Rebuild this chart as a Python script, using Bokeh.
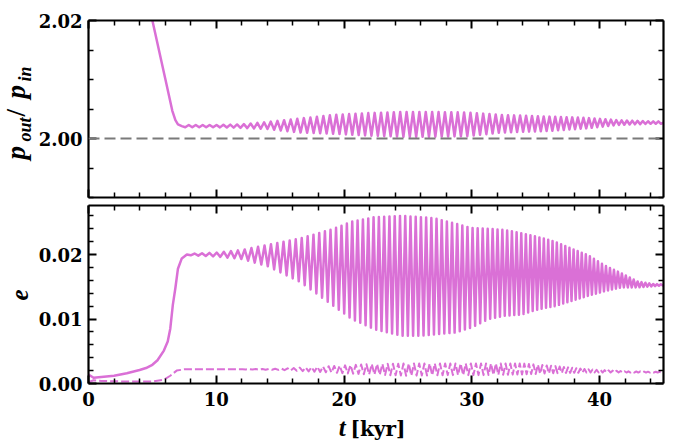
import numpy as np
from bokeh.plotting import figure
from bokeh.layouts import column, row
from bokeh.models import (Range1d, FixedTicker, LinearAxis, NumeralTickFormatter,
                          CustomJSTickFormatter, Span, Label)
from bokeh.embed import file_html
from bokeh.resources import INLINE

# ---------------- data ----------------
# top panel: period ratio p_out/p_in
ratio_drop_t = [0.0, 3.0, 4.0, 5.0, 6.0, 6.56, 6.8, 7.0, 7.3]
ratio_drop_v = [2.069, 2.0396, 2.0298, 2.0200, 2.0102, 2.0047, 2.0031, 2.0024, 2.0021]
ratio_env_t = [7.3, 10, 12, 14, 16.6, 19.2, 21.8, 24.5, 27, 29.7, 32.3, 36.2, 38.9, 41.5, 44.1, 45]
ratio_upper = [2.0023, 2.0023, 2.0024, 2.0028, 2.0034, 2.0040, 2.0043, 2.0045, 2.0045, 2.0044,
               2.0040, 2.0037, 2.0035, 2.0031, 2.0029, 2.0029]
ratio_lower = [2.0019, 2.0019, 2.0018, 2.0016, 2.0010, 2.0008, 2.0005, 2.0003, 2.0003, 2.0004,
               2.0010, 2.0013, 2.0017, 2.0023, 2.0025, 2.0025]
ratio_per_t = [7.0, 20.0, 30.0, 36.0, 45.0]
ratio_per = [0.55, 0.50, 0.50, 0.45, 0.40]
ratio_ref = 2.0

# bottom panel: eccentricities
ecc1_rise_t = [0.0, 0.4, 1.0, 2.0, 3.0, 4.0, 4.5, 5.0, 5.4, 5.9, 6.2, 6.4, 6.6, 6.8, 7.0, 7.3, 7.7]
ecc1_rise_v = [0.0014, 0.0009, 0.0010, 0.0012, 0.0016, 0.0021, 0.0024, 0.0029, 0.0036, 0.0051,
               0.0065, 0.0085, 0.0122, 0.0148, 0.0178, 0.0194, 0.0200]
ecc1_env_t = [7.7, 10, 12, 14, 16.6, 19.2, 20.6, 22.4, 24.5, 26.0, 27.1, 28.7, 30.0, 31.3, 32.6,
              33.9, 35.2, 36.5, 37.8, 39.1, 40.4, 41.7, 43.0, 44.3, 45]
ecc1_upper = [0.0201, 0.0203, 0.0207, 0.0215, 0.0225, 0.0240, 0.0251, 0.0258, 0.0260, 0.0258,
              0.0256, 0.0248, 0.0241, 0.0240, 0.0238, 0.0233, 0.0227, 0.0220, 0.0209, 0.0199,
              0.0183, 0.0171, 0.0158, 0.0154, 0.0154]
ecc1_lower = [0.0199, 0.0197, 0.0193, 0.0182, 0.0157, 0.0120, 0.0100, 0.0084, 0.0074, 0.0074,
              0.0076, 0.0079, 0.0087, 0.0100, 0.0105, 0.0107, 0.0115, 0.0120, 0.0128, 0.0136,
              0.0143, 0.0149, 0.0149, 0.0151, 0.0152]
ecc_per_t = [7.7, 14.0, 20.0, 30.0, 38.0, 45.0]
ecc_per = [0.60, 0.50, 0.42, 0.40, 0.32, 0.30]

ecc2_rise_t = [0.0, 0.4, 1.0, 3.0, 5.0, 5.9, 6.4, 6.9, 7.5]
ecc2_rise_v = [0.0002, 0.0005, 0.0004, 0.0003, 0.0003, 0.0006, 0.0012, 0.0020, 0.0022]
ecc2_env_t = [7.5, 12, 15, 16, 18, 20, 22, 25, 28, 31, 34, 36.5, 39.1, 42, 45]
ecc2_upper = [0.0022, 0.0022, 0.0023, 0.0024, 0.0026, 0.0028, 0.0030, 0.0031, 0.0031, 0.0031,
              0.0031, 0.0027, 0.0022, 0.0019, 0.0018]
ecc2_lower = [0.0022, 0.0022, 0.0021, 0.0020, 0.0018, 0.0016, 0.0014, 0.0012, 0.0013, 0.0013,
              0.0014, 0.0016, 0.0017, 0.0017, 0.0017]

x_major_ticks = [0, 10, 20, 30, 40]
x_minor_ticks = [2, 4, 6, 8, 12, 14, 16, 18, 22, 24, 26, 28, 32, 34, 36, 38, 42, 44]
top_major_ticks = [2.00, 2.02]
top_minor_ticks = [1.99, 1.995, 2.005, 2.01, 2.015]
bot_major_ticks = [0.0, 0.01, 0.02]
bot_minor_ticks = [0.002, 0.004, 0.006, 0.008, 0.012, 0.014, 0.016, 0.018, 0.022, 0.024, 0.026]

COLOR = "#da70d6"
MI = "Liberation Serif"   # math-italic look
UP = "DejaVu Serif"

PAGE_H = 440
STRIP_W = 34
MAIN_W = 641


def zigzag(env_t, upper, lower, per_t, per):
    """Turning points alternating between the read upper/lower envelopes."""
    ts, vs = [], []
    t = env_t[0]
    k = 0
    while t < env_t[-1]:
        env = upper if k % 2 == 0 else lower
        ts.append(t)
        vs.append(float(np.interp(t, env_t, env)))
        t += 0.5 * float(np.interp(t, per_t, per))
        k += 1
    ts.append(env_t[-1])
    vs.append(0.5 * (upper[-1] + lower[-1]))
    return ts, vs


def style_axis(ax, show_labels):
    ax.axis_line_width = 2.2
    ax.axis_line_color = "black"
    ax.major_tick_in = 8
    ax.major_tick_out = 0
    ax.minor_tick_in = 5
    ax.minor_tick_out = 0
    ax.major_tick_line_width = 2
    ax.minor_tick_line_width = 1.5
    ax.major_tick_line_color = "black"
    ax.minor_tick_line_color = "black"
    ax.major_label_text_font = UP
    ax.major_label_text_font_style = "bold"
    ax.major_label_text_color = "black"
    if show_labels:
        ax.major_label_text_font_size = "18px"
    else:
        ax.formatter = CustomJSTickFormatter(code="return ''")
        ax.major_label_text_font_size = "1px"
        ax.major_label_standoff = 0


def make_fig(height, y0, y1, border_top, border_bottom):
    p = figure(width=MAIN_W, height=height, x_range=Range1d(0, 45), y_range=Range1d(y0, y1),
               output_backend="svg", toolbar_location=None, title=None,
               x_axis_location=None, y_axis_location=None,
               min_border_left=54, min_border_right=12,
               min_border_top=border_top, min_border_bottom=border_bottom)
    p.grid.visible = False
    p.outline_line_color = None
    p.background_fill_color = "white"
    p.border_fill_color = "white"
    return p


def add_axes(p, yt_major, yt_minor, yfmt, show_x_labels):
    xt = FixedTicker(ticks=x_major_ticks, minor_ticks=x_minor_ticks)
    yt = FixedTicker(ticks=yt_major, minor_ticks=yt_minor)
    below = LinearAxis(ticker=xt)
    style_axis(below, show_x_labels)
    below.major_label_standoff = 8 if show_x_labels else 0
    left = LinearAxis(ticker=yt, formatter=NumeralTickFormatter(format=yfmt))
    style_axis(left, True)
    left.major_label_standoff = 6
    above = LinearAxis(ticker=xt)
    style_axis(above, False)
    right = LinearAxis(ticker=yt)
    style_axis(right, False)
    p.add_layout(below, "below")
    p.add_layout(left, "left")
    p.add_layout(above, "above")
    p.add_layout(right, "right")


def text_strip(width, height):
    s = figure(width=width, height=height, x_range=Range1d(0, width),
               y_range=Range1d(0, height), output_backend="svg", title=None,
               toolbar_location=None, x_axis_location=None, y_axis_location=None,
               min_border=0, min_border_left=0, min_border_right=0,
               min_border_top=0, min_border_bottom=0)
    s.grid.visible = False
    s.outline_line_color = None
    s.background_fill_color = "white"
    s.border_fill_color = "white"
    return s


def px(size):
    return float(size.replace("px", ""))


# ---------------- top panel ----------------
p1 = make_fig(201, 1.99, 2.02, 20, 4)
add_axes(p1, top_major_ticks, top_minor_ticks, "0.00", False)
p1.add_layout(Span(location=ratio_ref, dimension="width", line_color="#7a7a7a",
                   line_width=2, line_dash="11 5"))
zt, zv = zigzag(ratio_env_t, ratio_upper, ratio_lower, ratio_per_t, ratio_per)
p1.line(ratio_drop_t + zt[1:], ratio_drop_v + zv[1:], line_color=COLOR, line_width=2.5,
        line_join="round")

# ---------------- bottom panel ----------------
p2 = make_fig(210, 0.0, 0.0276, 4, 28)
add_axes(p2, bot_major_ticks, bot_minor_ticks, "0.00", True)
z1t, z1v = zigzag(ecc1_env_t, ecc1_upper, ecc1_lower, ecc_per_t, ecc_per)
p2.line(ecc1_rise_t + z1t[1:], ecc1_rise_v + z1v[1:], line_color=COLOR, line_width=2.5,
        line_join="round")
z2t, z2v = zigzag(ecc2_env_t, ecc2_upper, ecc2_lower, ecc_per_t, ecc_per)
p2.line(ecc2_rise_t + z2t[1:], ecc2_rise_v + z2v[1:], line_color=COLOR, line_width=2,
        line_join="round", line_dash="8 3")

# ---------------- axis-label strips ----------------
MID = 0.34  # distance from baseline to middle of the font box, in em
# left strip: x = page x, y = PAGE_H - page y; text rotated to read upwards
left_strip = text_strip(STRIP_W, PAGE_H)
ylab_pieces = [  # text, page x of baseline, page y of text start, size, font, style
    ("p", 24.5, 159, "27px", MI, "bold italic"),
    ("out", 30.5, 141, "18px", MI, "bold italic"),
    ("/", 24.5, 116, "27px", MI, "bold"),
    ("p", 24.5, 98, "27px", MI, "bold italic"),
    ("in", 30.5, 81, "18px", MI, "bold italic"),
    ("e", 27, 300, "25px", MI, "bold italic"),
]
for txt, xb, ys, size, font, style in ylab_pieces:
    left_strip.add_layout(Label(x=xb - MID * px(size), y=PAGE_H - ys, text=txt,
                                angle=np.pi / 2, text_align="left", text_baseline="middle",
                                text_font=font, text_font_style=style,
                                text_font_size=size, text_color="black"))

# bottom strip: x = page x - STRIP_W (with measured render shift), y = PAGE_H - page y
BOT_H = 29
X_SHIFT = 22
bottom_strip = text_strip(MAIN_W, BOT_H)
for txt, xl, yb, size, font, style in [("t", 335, 435, "25px", MI, "bold italic"),
                                       ("[kyr]", 348, 435, "20px", UP, "bold")]:
    bottom_strip.add_layout(Label(x=xl - STRIP_W - X_SHIFT, y=PAGE_H - (yb - MID * px(size)),
                                  text=txt, text_align="left", text_baseline="middle",
                                  text_font=font, text_font_style=style,
                                  text_font_size=size, text_color="black"))

layout = row(left_strip, column(p1, p2, bottom_strip, spacing=0), spacing=0)
open("out.html", "w").write(file_html(layout, INLINE))
